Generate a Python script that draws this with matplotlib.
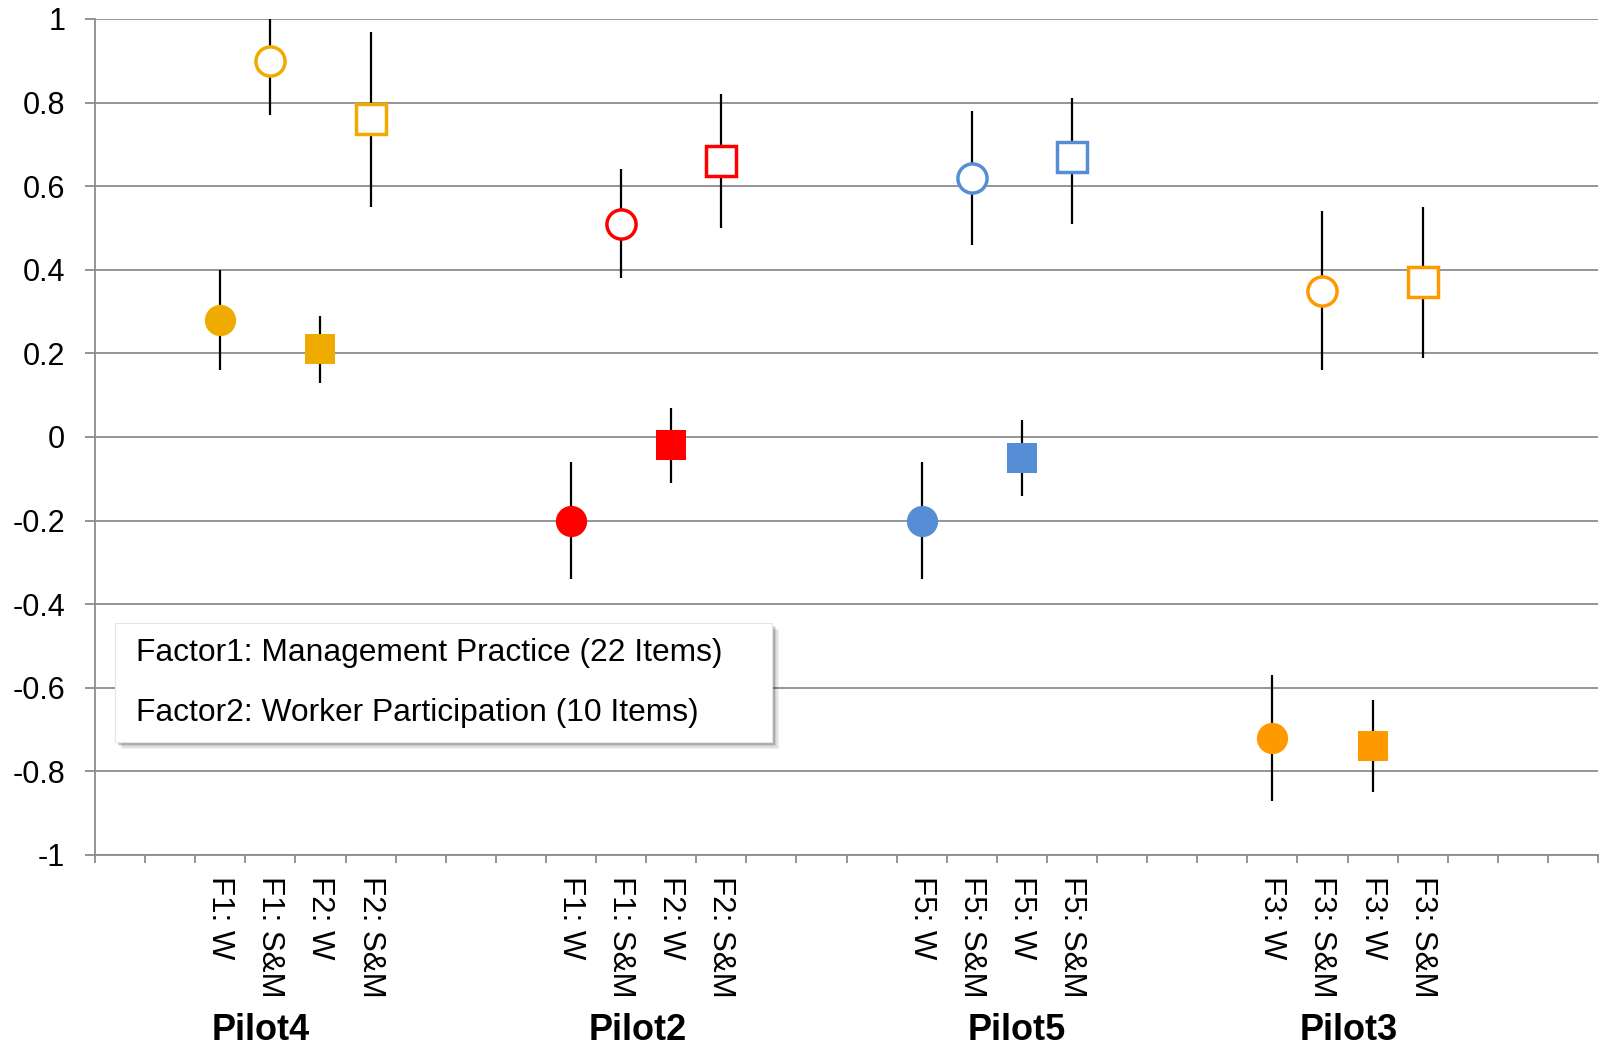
import numpy as np
import matplotlib
matplotlib.use("Agg")
import matplotlib.pyplot as plt
from matplotlib.patches import Rectangle

plt.rcParams['font.family'] = ['Liberation Sans', 'DejaVu Sans']

# ---------------- data ----------------
pilots = ["Pilot4", "Pilot2", "Pilot5", "Pilot3"]
pilot_colors = ["#F0AB00", "#FF0000", "#558ED5", "#FF9900"]
group_labels = [
    ["F1: W", "F1: S&M", "F2: W", "F2: S&M"],
    ["F1: W", "F1: S&M", "F2: W", "F2: S&M"],
    ["F5: W", "F5: S&M", "F5: W", "F5: S&M"],
    ["F3: W", "F3: S&M", "F3: W", "F3: S&M"],
]
# order inside each group: F?:W (filled circle), F?:S&M (open circle),
#                          F?:W (filled square), F?:S&M (open square)
means = [
    [0.28, 0.90, 0.21, 0.76],
    [-0.20, 0.51, -0.02, 0.66],
    [-0.20, 0.62, -0.05, 0.67],
    [-0.72, 0.35, -0.74, 0.37],
]
lowers = [
    [0.16, 0.77, 0.13, 0.55],
    [-0.34, 0.38, -0.11, 0.50],
    [-0.34, 0.46, -0.14, 0.51],
    [-0.87, 0.16, -0.85, 0.19],
]
uppers = [
    [0.40, 1.00, 0.29, 0.97],
    [-0.06, 0.64, 0.07, 0.82],
    [-0.06, 0.78, 0.04, 0.81],
    [-0.57, 0.54, -0.63, 0.55],
]
n_categories = 30
y_ticks = [-1, -0.8, -0.6, -0.4, -0.2, 0, 0.2, 0.4, 0.6, 0.8, 1]
legend_lines = ["Factor1: Management Practice (22 Items)",
                "Factor2: Worker Participation (10 Items)"]

# ---------------- layout ----------------
W, H = 1602, 1050
fig = plt.figure(figsize=(W / 100, H / 100), dpi=100)
ax_l, ax_r, ax_t, ax_b = 95, 1598, 19, 855
ax = fig.add_axes([ax_l / W, 1 - ax_b / H, (ax_r - ax_l) / W, (ax_b - ax_t) / H])

group_start = [2, 9, 16, 23]
styles = [("o", True), ("o", False), ("s", True), ("s", False)]
grid_col = "#8C8C8C"

ax.set_xlim(0, n_categories)
ax.set_ylim(-1, 1)

tick_pos, tick_lab = [], []
for g in range(len(pilots)):
    col = pilot_colors[g]
    for k in range(4):
        x = group_start[g] + k + 0.5
        tick_pos.append(x)
        tick_lab.append(group_labels[g][k])
        ax.vlines(x, lowers[g][k], uppers[g][k], color="black", lw=1.6, zorder=3)
        mk, filled = styles[k]
        if filled:
            ax.plot([x], [means[g][k]], ls="none", marker=mk, ms=22.5 if mk == "o" else 21.5,
                    mfc=col, mec=col, mew=0, zorder=4)
        else:
            ax.plot([x], [means[g][k]], ls="none", marker=mk, ms=21,
                    mfc="white", mec=col, mew=2.5, zorder=4)

# y axis
ax.set_yticks(y_ticks)
ax.set_yticklabels([f"{v:g}" for v in y_ticks])
ax.yaxis.grid(True, color=grid_col, lw=1.3)
ax.set_axisbelow(True)
ax.tick_params(axis="y", which="major", length=7.5, width=1.3, color=grid_col,
               labelsize=22, pad=14, labelcolor="black")

# x axis
ax.set_xticks(np.arange(0, n_categories + 1))
ax.set_xticklabels([])
ax.tick_params(axis="x", which="major", length=6, width=1.3, color=grid_col, direction="out")
ax.set_xticks(tick_pos, minor=True)
ax.set_xticklabels(tick_lab, minor=True, rotation=270, fontsize=22.5)
ax.tick_params(axis="x", which="minor", length=0, pad=15)

for s in ["top", "right"]:
    ax.spines[s].set_visible(False)
for s in ["left", "bottom"]:
    ax.spines[s].set_color(grid_col)
    ax.spines[s].set_linewidth(1.3)

# group labels
pilot_x = [261, 638, 1017, 1349]
for name, px in zip(pilots, pilot_x):
    fig.text(px / W, 1 - 1031 / H, name, ha="center", va="center",
             fontsize=26, fontweight="bold")

# text box with shadow
bx0, bx1, by0, by1 = 115, 772, 623, 742
for i, a in enumerate([0.05, 0.07, 0.10, 0.14]):
    off = 7 - i * 1.5
    fig.patches.append(Rectangle(((bx0 + off) / W, 1 - (by1 + off) / H),
                                 (bx1 - bx0) / W, (by1 - by0) / H,
                                 transform=fig.transFigure, facecolor="black",
                                 edgecolor="none", alpha=a, zorder=5))
fig.patches.append(Rectangle((bx0 / W, 1 - by1 / H), (bx1 - bx0) / W, (by1 - by0) / H,
                             transform=fig.transFigure, facecolor="white",
                             edgecolor="#E6E6E6", lw=0.8, zorder=6))
for line, yy in zip(legend_lines, [653, 713]):
    fig.text(136 / W, 1 - yy / H, line, ha="left", va="center", fontsize=22.9, zorder=7)

fig.savefig("out.png", dpi=100)
